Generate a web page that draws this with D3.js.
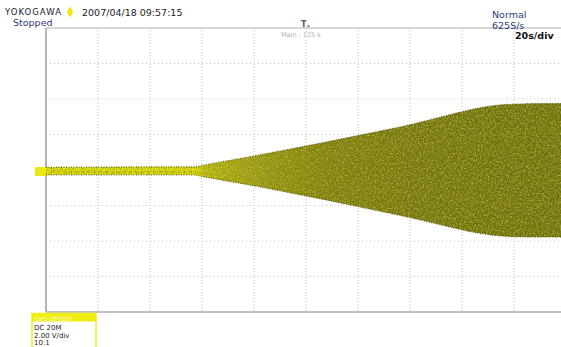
<!DOCTYPE html>
<html>
<head>
<meta charset="utf-8">
<script src="https://cdn.jsdelivr.net/npm/d3@7"></script>
<style>
  html, body { margin: 0; padding: 0; background: #ffffff; }
  svg { display: block; font-family: "DejaVu Sans", Verdana, sans-serif; }
</style>
</head>
<body>
<svg id="chart" width="561" height="347"></svg>
<script>
// ---- data ----
const timeS  = [-100, -70, -43, -40, -20, 0, 20, 40, 55, 65, 72, 80, 90, 100];          // seconds (20 s/div, trigger at centre)
const upperV = [0.15, 0.17, 0.18, 0.26, 0.79, 1.35, 1.94, 2.55, 3.1, 3.45, 3.62, 3.71, 3.74, 3.74]; // upper envelope, V
const lowerV = [-0.28, -0.27, -0.28, -0.36, -0.89, -1.46, -2.06, -2.68, -3.2, -3.52, -3.67, -3.76, -3.78, -3.78]; // lower envelope, V
const xTicks = [-100, -80, -60, -40, -20, 0, 20, 40, 60, 80, 100];
const yTicks = [-8, -6, -4, -2, 0, 2, 4, 6, 8];
const headerTexts = ["YOKOGAWA", "2007/04/18 09:57:15", "Stopped", "Normal", "625S/s", "20s/div", "Main : 125 k"];
const chInfo = ["DC 20M", "2.00 V/div", "10:1"];

const svg = d3.select("#chart");
const x = d3.scaleLinear().domain([-100, 100]).range([46, 566]);
const y = d3.scaleLinear().domain([-8, 8]).range([312, 28]);

// defs
const defs = svg.append("defs");
const grad = defs.append("linearGradient").attr("id", "tg")
  .attr("gradientUnits", "userSpaceOnUse")
  .attr("x1", x(-100)).attr("x2", x(100)).attr("y1", 0).attr("y2", 0);
[[0, "#e6e600"], [0.29, "#e2e200"], [0.31, "#c0c018"], [0.42, "#98981a"], [0.55, "#7c7c16"], [0.75, "#6e6e12"], [1, "#6a6a12"]]
  .forEach(([o, c]) => grad.append("stop").attr("offset", o).attr("stop-color", c));
const f = defs.append("filter").attr("id", "grain").attr("x", 0).attr("y", 0).attr("width", 1).attr("height", 1);
f.append("feTurbulence").attr("type", "fractalNoise").attr("baseFrequency", "0.7").attr("numOctaves", 2).attr("seed", 3).attr("result", "n");
f.append("feColorMatrix").attr("in", "n").attr("type", "matrix")
  .attr("values", "0 0 0 0 0.25  0 0 0 0 0.25  0 0 0 0 0  0 0 0 1.8 -0.7").attr("result", "d");
f.append("feComposite").attr("in", "d").attr("in2", "SourceGraphic").attr("operator", "in").attr("result", "s");
f.append("feTurbulence").attr("type", "fractalNoise").attr("baseFrequency", "0.6").attr("numOctaves", 2).attr("seed", 11).attr("result", "n2");
f.append("feColorMatrix").attr("in", "n2").attr("type", "matrix")
  .attr("values", "0 0 0 0 0.62  0 0 0 0 0.62  0 0 0 0 0.1  0 0 0 1.6 -0.7").attr("result", "l");
f.append("feComposite").attr("in", "l").attr("in2", "SourceGraphic").attr("operator", "in").attr("result", "s2");
const fm = f.append("feMerge");
fm.append("feMergeNode").attr("in", "SourceGraphic");
fm.append("feMergeNode").attr("in", "s2");
fm.append("feMergeNode").attr("in", "s");

// grid
const grid = svg.append("g");
grid.selectAll("line.v").data(xTicks.slice(1, -1)).join("line")
  .attr("x1", d => x(d)).attr("x2", d => x(d)).attr("y1", y(8)).attr("y2", y(-8))
  .attr("stroke", "#c4c4c4").attr("stroke-width", 1).attr("stroke-dasharray", "1,2");
grid.selectAll("line.h").data(yTicks.slice(1, -1)).join("line")
  .attr("x1", x(-100)).attr("x2", x(100)).attr("y1", d => y(d)).attr("y2", d => y(d))
  .attr("stroke", "#c4c4c4").attr("stroke-width", 1).attr("stroke-dasharray", "1,3");

// frame
svg.append("line").attr("x1", x(-100)).attr("x2", x(100)).attr("y1", y(8)).attr("y2", y(8)).attr("stroke", "#c8c8c8").attr("stroke-width", 1.5);
svg.append("line").attr("x1", x(-100)).attr("x2", x(100)).attr("y1", y(-8)).attr("y2", y(-8)).attr("stroke", "#c0c0c0").attr("stroke-width", 2);
svg.append("line").attr("x1", x(-100)).attr("x2", x(-100)).attr("y1", y(8)).attr("y2", y(-8)).attr("stroke", "#b4b4b4").attr("stroke-width", 2);

// trace envelope
const pts = timeS.map((t, i) => ({ t, u: upperV[i], l: lowerV[i] }));
const area = d3.area().x(d => x(d.t)).y0(d => y(d.l)).y1(d => y(d.u)).curve(d3.curveMonotoneX);
svg.append("path").datum(pts).attr("d", area).attr("fill", "url(#tg)").attr("filter", "url(#grain)");

// faint internal streaks
[0.55, -0.5].forEach(k => {
  svg.append("path").datum(pts.filter(d => d.t >= -43))
    .attr("d", d3.line().x(d => x(d.t)).y(d => y(k > 0 ? d.u * k : -d.l * k)).curve(d3.curveMonotoneX))
    .attr("fill", "none").attr("stroke", "#9a9a26").attr("stroke-opacity", 0.25).attr("stroke-width", 1.5);
});

// jagged edges
const edgeU = d3.line().x(d => x(d.t)).y(d => y(d.u)).curve(d3.curveMonotoneX);
const edgeL = d3.line().x(d => x(d.t)).y(d => y(d.l)).curve(d3.curveMonotoneX);
[edgeU, edgeL].forEach(g => {
  svg.append("path").datum(pts).attr("d", g).attr("fill", "none")
    .attr("stroke", "#50500a").attr("stroke-width", 1.3).attr("stroke-dasharray", "1,1.5").attr("stroke-opacity", 0.8);
});
// centre dotted line on flat trace
svg.append("line").attr("x1", x(-98)).attr("x2", x(-44)).attr("y1", y(-0.12)).attr("y2", y(-0.12))
  .attr("stroke", "#8a8a10").attr("stroke-width", 1).attr("stroke-dasharray", "3,3").attr("stroke-opacity", 0.7);

// ground marker
svg.append("rect").attr("x", x(-100) - 11).attr("y", y(0) - 3).attr("width", 11).attr("height", 9).attr("fill", "#eaea10");

// header texts
svg.append("text").attr("x", 5).attr("y", 15).attr("font-size", 8.5).attr("fill", "#1a1a2a").attr("textLength", 56).text(headerTexts[0]);
svg.append("path").attr("d", d3.symbol(d3.symbolDiamond, 34)()).attr("transform", "translate(70,12)").attr("fill", "#f2e600");
svg.append("text").attr("x", 82).attr("y", 16).attr("font-size", 9.5).attr("fill", "#222").text(headerTexts[1]);
svg.append("text").attr("x", 13).attr("y", 26).attr("font-size", 9.5).attr("fill", "#2c3a78").text(headerTexts[2]);
svg.append("text").attr("x", 492).attr("y", 18).attr("font-size", 9.5).attr("fill", "#2c3a78").text(headerTexts[3]);
svg.append("text").attr("x", 492).attr("y", 29).attr("font-size", 9.5).attr("fill", "#2c3a78").text(headerTexts[4]);
svg.append("text").attr("x", 515).attr("y", 39).attr("font-size", 9.5).attr("font-weight", "bold").attr("fill", "#111").text(headerTexts[5]);
svg.append("text").attr("x", 281).attr("y", 37).attr("font-size", 6.5).attr("fill", "#b0b0b0").text(headerTexts[6]);
// trigger marker
svg.append("text").attr("x", x(0) - 5).attr("y", 27).attr("font-size", 8).attr("font-weight", "bold").attr("fill", "#555").text("T");
svg.append("line").attr("x1", x(0) + 1).attr("x2", x(0) + 4).attr("y1", 26).attr("y2", 26).attr("stroke", "#555");

// channel info box
svg.append("rect").attr("x", 32).attr("y", 313.5).attr("width", 64).attr("height", 36).attr("fill", "#fff").attr("stroke", "#eeee30").attr("stroke-width", 1.5);
svg.append("rect").attr("x", 32).attr("y", 313.5).attr("width", 64).attr("height", 8).attr("fill", "#eeee10");
svg.append("text").attr("x", 35).attr("y", 320.5).attr("font-size", 6).attr("fill", "#fafad0").text("CH1  OFFSET");
svg.selectAll("text.ch").data(chInfo).join("text")
  .attr("x", 34).attr("y", (d, i) => 330 + i * 7.6).attr("font-size", 7).attr("fill", "#222").text(d => d);
</script>
</body>
</html>
